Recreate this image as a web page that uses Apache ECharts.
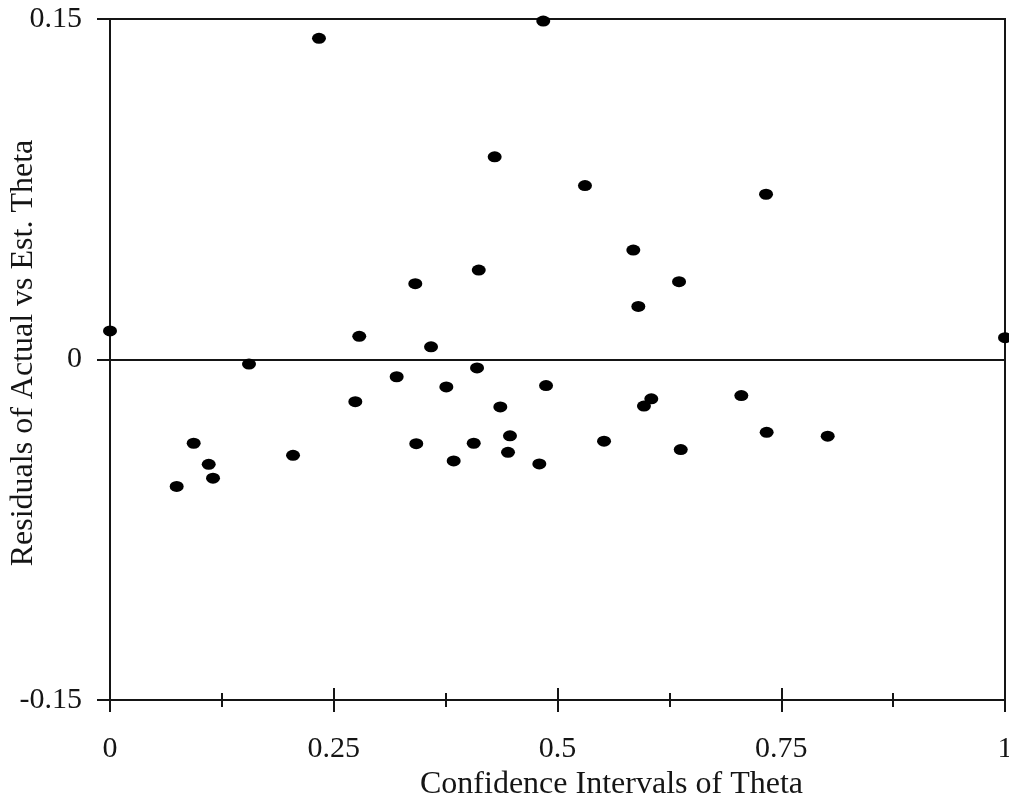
<!DOCTYPE html>
<html>
<head>
<meta charset="utf-8">
<title>Residuals vs Confidence Intervals of Theta</title>
<script src="https://cdn.jsdelivr.net/npm/echarts@6/dist/echarts.min.js"></script>
<style>
  html, body { margin: 0; padding: 0; background: #ffffff; }
  #chart { width: 1009px; height: 801px; }
</style>
</head>
<body>
<div id="chart"></div>
<script>
// Confidence interval of theta (x) for each estimate
const confidence = [
  0.2335, 0.4841, 0.4298, 0.5307, 0.5847, 0.7330,
  0.0000, 0.1553, 0.2785, 0.3203, 0.2741, 0.0935,
  0.2045, 0.1103, 0.1151, 0.0745, 0.4120, 0.3411,
  0.6358, 0.5903, 0.3587, 0.4101, 0.3758, 0.4872,
  0.4361, 0.6048, 0.5966, 0.3422, 0.4064, 0.4469,
  0.4447, 0.3840, 0.4797, 0.5520, 0.6377, 1.0000,
  0.7054, 0.7337, 0.8019
];

// Residual of actual vs estimated theta (y)
const residuals = [
  0.1415, 0.1491, 0.0893, 0.0766, 0.0482, 0.0728,
  0.0126, -0.0020, 0.0102, -0.0076, -0.0186, -0.0369,
  -0.0422, -0.0462, -0.0523, -0.0559, 0.0394, 0.0334,
  0.0343, 0.0234, 0.0056, -0.0037, -0.0121, -0.0115,
  -0.0209, -0.0173, -0.0205, -0.0371, -0.0369, -0.0336,
  -0.0409, -0.0447, -0.0460, -0.0360, -0.0397, 0.0096,
  -0.0159, -0.0321, -0.0338
];

// Axis tick values and their printed labels
const xTickValues = [0, 0.25, 0.5, 0.75, 1];
const xTickLabels = ['0', '0.25', '0.5', '0.75', '1'];
const yTickValues = [-0.15, 0, 0.15];
const yTickLabels = ['-0.15', '0', '0.15'];

const xTitle = 'Confidence Intervals of Theta';
const yTitle = 'Residuals of Actual vs Est. Theta';

function lookupLabel(values, labels) {
  return function (v) {
    for (let i = 0; i < values.length; i++) {
      if (Math.abs(values[i] - v) < 1e-9) return labels[i];
    }
    return '';
  };
}

const ink = '#151515';
const serif = '"Liberation Serif", "Times New Roman", "DejaVu Serif", serif';
const axisLineStyle = { color: ink, width: 2 };

const chart = echarts.init(document.getElementById('chart'), null, { renderer: 'canvas' });

chart.setOption({
  animation: false,
  backgroundColor: '#ffffff',
  textStyle: { fontFamily: serif, color: ink },
  grid: {
    left: 110, right: 4, top: 19, bottom: 101,
    containLabel: false,
    outerBoundsMode: 'none',
    show: true,
    borderColor: ink,
    borderWidth: 2,
    backgroundColor: 'transparent'
  },
  xAxis: [
    {
      type: 'value',
      min: 0, max: 1, interval: 0.25,
      position: 'bottom',
      axisLine: { show: true, onZero: false, lineStyle: axisLineStyle },
      axisTick: { show: true, inside: false, length: 12, lineStyle: axisLineStyle },
      minorTick: { show: true, splitNumber: 2, length: 7, lineStyle: axisLineStyle },
      splitLine: { show: false },
      minorSplitLine: { show: false },
      axisLabel: {
        margin: 34, fontSize: 30, fontFamily: serif, color: ink,
        formatter: lookupLabel(xTickValues, xTickLabels)
      },
      name: xTitle,
      nameLocation: 'middle',
      nameGap: 65,
      nameTextStyle: { fontSize: 32, fontFamily: serif, color: ink, padding: [0, 0, 0, 108] }
    },
    {
      // mirror of the bottom axis whose ticks point into the plot,
      // so each tick mark crosses the axis line
      type: 'value',
      min: 0, max: 1, interval: 0.25,
      position: 'bottom',
      axisLine: { show: false, onZero: false },
      axisTick: { show: true, inside: true, length: 12, lineStyle: axisLineStyle },
      minorTick: { show: true, splitNumber: 2, length: 7, lineStyle: axisLineStyle },
      splitLine: { show: false },
      axisLabel: { show: false }
    }
  ],
  yAxis: {
    type: 'value',
    min: -0.15, max: 0.15, interval: 0.15,
    axisLine: { show: true, onZero: false, lineStyle: axisLineStyle },
    axisTick: { show: true, inside: false, length: 13, lineStyle: axisLineStyle },
    splitLine: { show: true, lineStyle: axisLineStyle },
    axisLabel: {
      margin: 28, fontSize: 30, fontFamily: serif, color: ink,
      formatter: lookupLabel(yTickValues, yTickLabels)
    },
    name: yTitle,
    nameLocation: 'middle',
    nameGap: 70,
    nameMoveOverlap: false,
    nameTextStyle: { fontSize: 32, fontFamily: serif, color: ink, padding: [0, 0, 0, 13] }
  },
  series: [
    {
      type: 'scatter',
      xAxisIndex: 0,
      yAxisIndex: 0,
      clip: false,
      symbol: 'circle',
      symbolSize: [14, 11],
      itemStyle: { color: '#000000', opacity: 1 },
      emphasis: { disabled: true },
      data: confidence.map(function (x, i) { return [x, residuals[i]]; })
    }
  ]
});
</script>
</body>
</html>
